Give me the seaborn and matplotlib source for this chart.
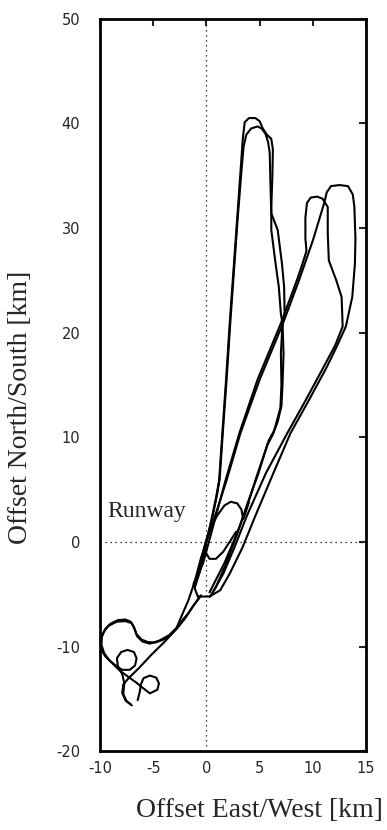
import numpy as np
import pandas as pd
import matplotlib
matplotlib.use("Agg")
import matplotlib.pyplot as plt
import seaborn as sns

# Ground tracks of the survey flights, offsets from the runway in km
outer_loop_x = [-0.8, -1.1, -0.6, -0.1, 0.4, 0.9, 1.2, 1.5, 1.85, 2.2, 2.55, 2.9, 3.25, 3.42, 3.6, 4.0, 4.6, 5.0, 5.3,
                5.7, 6.1, 6.25, 6.2, 6.1, 6.1, 6.3, 6.5, 6.8, 7.0, 7.15, 7.25, 7.15, 7.05, 6.7, 6.4, 5.85, 4.9, 3.8,
                2.9, 1.8, 0.9, 0.35, -0.4, -0.8]
outer_loop_y = [-5.2, -4.4, -2.8, -0.5, 1.8, 4.2, 5.9, 10.4, 15.5, 21.0, 26.0, 31.0, 36.0, 38.5, 40.1, 40.5, 40.5,
                40.2, 39.5, 38.9, 38.5, 37.5, 35.0, 32.0, 29.8, 28.2, 26.6, 24.4, 21.8, 20.9, 18.0, 15.0, 13.0, 11.5,
                10.7, 9.7, 6.6, 3.5, 0.8, -2.2, -4.3, -5.2, -5.2, -5.2]

inner_loop_x = [-1.2, -0.7, -0.2, 0.5, 1.0, 1.25, 1.55, 1.9, 2.25, 2.6, 2.95, 3.3, 3.5, 3.75, 4.2, 4.8, 5.2, 5.55,
                5.8, 5.95, 6.0, 6.05, 6.1, 6.7, 6.9, 7.1, 7.3, 7.35, 7.15, 7.0, 7.05, 6.95, 6.3, 5.7, 4.7, 3.7,
                2.7, 1.7, 0.8, 0.3]
inner_loop_y = [-4.0, -2.8, -0.5, 2.0, 4.5, 6.0, 10.5, 15.5, 21.0, 26.0, 31.0, 35.5, 37.8, 38.9, 39.5, 39.7, 39.5,
                39.0, 38.2, 37.2, 35.0, 33.0, 31.4, 29.8, 28.2, 26.6, 24.4, 21.8, 20.9, 18.0, 15.0, 12.8, 10.4,
                9.2, 6.2, 3.0, 0.4, -2.0, -3.8, -4.8]

east_loop_x = [-1.2, -0.5, 0.6, 1.9, 3.2, 5.0, 7.2, 8.7, 10.0, 11.1, 11.3, 11.7, 12.5, 13.3, 13.75, 13.9, 14.0, 13.95,
               13.7, 13.1, 12.3, 11.3, 9.6, 7.9, 6.3, 4.6, 3.4, 2.2, 1.3, 0.3]
east_loop_y = [-4.2, -1.5, 1.8, 5.9, 10.4, 15.5, 20.9, 25.0, 28.8, 32.5, 33.4, 34.0, 34.1, 34.0, 33.2, 32.0, 29.0,
               26.6, 23.4, 20.6, 18.8, 16.7, 13.5, 10.4, 6.6, 2.5, -0.5, -3.0, -4.6, -5.2]

small_loop_x = [0.6, 1.6, 2.6, 3.8, 5.6, 7.6, 9.3, 11.0, 12.1, 12.8, 12.7, 12.2, 11.5, 11.4, 11.4, 11.1, 10.9, 10.4,
                9.8, 9.45, 9.3, 9.3, 9.4, 9.0, 8.5, 7.0, 4.8, 3.1, 1.8, 0.5, -0.3, -1.2]
small_loop_y = [-4.8, -3.0, -0.6, 2.5, 6.6, 10.4, 13.5, 16.7, 18.8, 20.6, 23.4, 25.0, 26.9, 29.5, 32.0, 32.5, 32.8,
                33.0, 32.9, 32.4, 31.0, 29.0, 27.8, 26.5, 25.0, 20.9, 15.5, 10.4, 5.9, 1.0, -2.0, -4.2]

runway_circuit_x = [4.0, 3.6, 3.45, 3.3, 2.9, 2.3, 1.7, 1.0, 0.4, -0.05, -0.1, 0.3, 0.9, 1.6, 2.3, 2.8]
runway_circuit_y = [3.8, 2.6, 2.2, 3.1, 3.7, 3.85, 3.5, 2.5, 1.3, 0.0, -0.9, -1.6, -1.6, -0.9, 0.2, 1.0]

hook_x = [-0.5, -1.1, -1.7, -2.2, -2.6, -3.2, -4.0, -4.8, -5.5, -6.1, -6.55, -6.8, -7.1, -7.6, -8.3, -9.0, -9.5,
          -9.8, -9.85, -9.6, -9.1, -8.5, -7.9, -7.2, -6.7, -6.55, -6.8, -7.4, -8.0, -8.4, -8.3, -7.9, -7.7, -7.8,
          -7.5, -7.0]
hook_y = [-5.1, -5.9, -6.8, -7.4, -8.0, -8.7, -9.3, -9.6, -9.55, -9.3, -8.8, -8.1, -7.6, -7.4, -7.45, -7.8, -8.3,
          -9.0, -9.8, -10.6, -11.3, -11.8, -12.2, -12.2, -11.8, -11.1, -10.5, -10.3, -10.5, -11.1, -11.9, -12.6,
          -13.5, -14.5, -15.2, -15.6]

south_loop_x = [-1.1, -1.7, -2.3, -2.8, -3.5, -4.4, -5.3, -6.0, -6.5, -6.75, -7.0, -7.6, -8.4, -9.2, -9.65, -9.95,
                -9.9, -9.5, -8.9, -8.1, -7.3, -6.6, -6.0, -5.3, -4.6, -4.45, -4.7, -5.3, -5.9, -6.15, -6.25, -6.45]
south_loop_y = [-3.8, -5.6, -7.0, -8.2, -8.9, -9.4, -9.7, -9.5, -9.0, -8.3, -7.75, -7.55, -7.6, -8.0, -8.6, -9.4,
                -10.2, -10.9, -11.5, -12.3, -12.9, -13.4, -13.9, -14.45, -14.1, -13.5, -12.95, -12.75, -13.0,
                -13.6, -14.3, -15.1]

direct_x = [-0.5, -1.3, -2.0, -2.8, -4.0, -5.2, -6.3, -7.3, -7.8, -7.9, -7.6, -7.1]
direct_y = [-5.1, -6.2, -7.3, -8.3, -9.6, -10.8, -12.0, -13.0, -13.6, -14.4, -15.1, -15.5]

tracks = {
    "outer": (outer_loop_x, outer_loop_y),
    "inner": (inner_loop_x, inner_loop_y),
    "east": (east_loop_x, east_loop_y),
    "small": (small_loop_x, small_loop_y),
    "circuit": (runway_circuit_x, runway_circuit_y),
    "hook": (hook_x, hook_y),
    "south": (south_loop_x, south_loop_y),
    "direct": (direct_x, direct_y),
}

x_ticks = [-10, -5, 0, 5, 10, 15]
y_ticks = [-20, -10, 0, 10, 20, 30, 40, 50]

frames = []
for name, (xs, ys) in tracks.items():
    frames.append(pd.DataFrame({"track": name, "step": np.arange(len(xs)), "east": xs, "north": ys}))
df = pd.concat(frames, ignore_index=True)

sns.set_style("white")
plt.rcParams["font.family"] = ["DejaVu Sans"]

fig = plt.figure(figsize=(3.87, 8.30), dpi=100)
ax = fig.add_axes([0.258, 0.0946, 0.688, 0.883])

# reference lines through the runway position
ax.axvline(0, color="black", lw=0.9, ls=(0, (1, 3)), zorder=1)
ax.axhline(0, color="black", lw=0.9, ls=(0, (1, 3)), zorder=1)

sns.lineplot(data=df, x="east", y="north", units="track", estimator=None, sort=False,
             color="black", lw=1.5, ax=ax, legend=False, zorder=3)

ax.set_xlim(-10, 15)
ax.set_ylim(-20, 50)
ax.set_xticks(x_ticks)
ax.set_yticks(y_ticks)
ax.set_xticklabels([str(v) for v in x_ticks])
ax.set_yticklabels([str(v) for v in y_ticks])
ax.tick_params(direction="in", length=5, width=1.5, top=True, right=True, labelsize=10.5)
ax.tick_params(axis="y", pad=14)
ax.tick_params(axis="x", pad=7)
for s in ax.spines.values():
    s.set_linewidth(2.0)
    s.set_color("black")

serif = ["Liberation Serif", "DejaVu Serif"]
ax.set_xlabel("Offset East/West [km]", family=serif, fontsize=20)
ax.set_ylabel("Offset North/South [km]", family=serif, fontsize=20)
ax.xaxis.set_label_coords(0.60, -0.0634)
ax.yaxis.set_label_coords(-0.252, 0.469)

ax.text(-9.34, 2.4, "Runway", family=serif, fontsize=17, va="baseline", ha="left")

fig.savefig("out.png", dpi=100)
